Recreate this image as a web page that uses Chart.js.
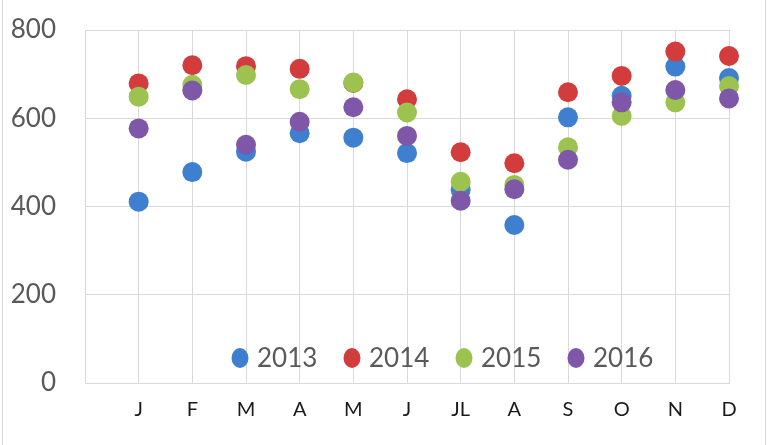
<!DOCTYPE html>
<html>
<head>
<meta charset="utf-8">
<script src="https://cdn.jsdelivr.net/npm/chart.js@4.4.1/dist/chart.umd.min.js"></script>
<style>
    body { margin: 0; background: #fff; }
    #caja { position: relative; width: 768px; height: 445px; }
    #marco { position: absolute; left: 2px; right: 2px; top: -2px; bottom: -2px; border: 1px solid #d4d4d4; pointer-events: none; }
</style>
</head>
<body>
<div id="caja">
    <canvas id="canvas1" width="768" height="445"></canvas>
    <div id="marco"></div>
</div>
<script>
const meses = ['J', 'F', 'M', 'A', 'M', 'J', 'JL', 'A', 'S', 'O', 'N', 'D'];
const anios = ['2013', '2014', '2015', '2016'];
const v2013 = [411, 478, 524, 566, 556, 521, 438, 358, 602, 651, 717, 691];
const v2014 = [679, 720, 718, 712, 680, 643, 523, 498, 659, 696, 751, 741];
const v2015 = [649, 676, 698, 666, 681, 613, 456, 449, 534, 605, 636, 673];
const v2016 = [577, 663, 540, 592, 625, 560, 413, 439, 506, 636, 664, 645];
const yTicks = [0, 200, 400, 600, 800];

const colores = ['#3f7fcf', '#d23c3c', '#9cc34f', '#7e57a8'];
const series = [v2013, v2014, v2015, v2016];

function puntos(valores) {
    return valores.map((v, i) => ({ x: i + 1, y: v }));
}

// leyenda dibujada dentro del area del grafico
const leyendaDentro = {
    id: 'leyendaDentro',
    afterDatasetsDraw(chart, args, opts) {
        const ctx = chart.ctx;
        let x = opts.x;
        const y = opts.y;
        ctx.save();
        ctx.font = '26px Lato';
        ctx.textBaseline = 'middle';
        ctx.textAlign = 'left';
        chart.data.datasets.forEach(ds => {
            ctx.fillStyle = ds.backgroundColor;
            ctx.beginPath();
            ctx.ellipse(x + 9, y, 8.5, 10, 0, 0, Math.PI * 2);
            ctx.fill();
            ctx.fillStyle = '#595959';
            ctx.fillText(ds.label, x + 26, y + 1);
            x += 112;
        });
        ctx.restore();
    }
};

const ctx = document.getElementById('canvas1');

var chart = new Chart(ctx, {
    type: 'scatter',
    data: {
        datasets: series.map((s, i) => ({
            label: anios[i],
            data: puntos(s),
            backgroundColor: colores[i],
            borderColor: colores[i],
            pointRadius: 10,
            pointHoverRadius: 10,
            borderWidth: 0,
            clip: false,
            order: series.length - i
        }))
    },
    options: {
        responsive: false,
        animation: false,
        events: [],
        layout: { padding: { left: 0, right: 39, top: 30, bottom: 0 } },
        plugins: {
            legend: { display: false },
            tooltip: { enabled: false },
            leyendaDentro: { x: 231, y: 358 }
        },
        scales: {
            x: {
                type: 'linear',
                min: 0,
                max: 12,
                afterFit: s => { s.height = 62; s.paddingLeft = 0; s.paddingRight = 0; },
                afterBuildTicks: s => { s.ticks = meses.map((m, i) => ({ value: i })).concat([{ value: 12 }]); },
                grid: { color: '#d9d9d9', drawTicks: false },
                border: { color: '#d9d9d9' },
                ticks: {
                    autoSkip: false,
                    maxRotation: 0,
                    padding: 15,
                    color: '#1a1a1a',
                    font: { family: 'Lato', size: 20 },
                    callback: v => (v >= 1 && v <= 12 ? meses[v - 1] : '')
                }
            },
            y: {
                min: 0,
                max: 800,
                afterFit: s => { s.width = 85; s.paddingTop = 0; s.paddingBottom = 0; },
                afterBuildTicks: s => { s.ticks = yTicks.map(v => ({ value: v })); },
                grid: { color: '#d9d9d9', drawTicks: false },
                border: { color: '#d9d9d9' },
                ticks: {
                    padding: 29,
                    color: '#595959',
                    font: { family: 'Lato', size: 26 }
                }
            }
        }
    },
    plugins: [leyendaDentro]
});
</script>
</body>
</html>
